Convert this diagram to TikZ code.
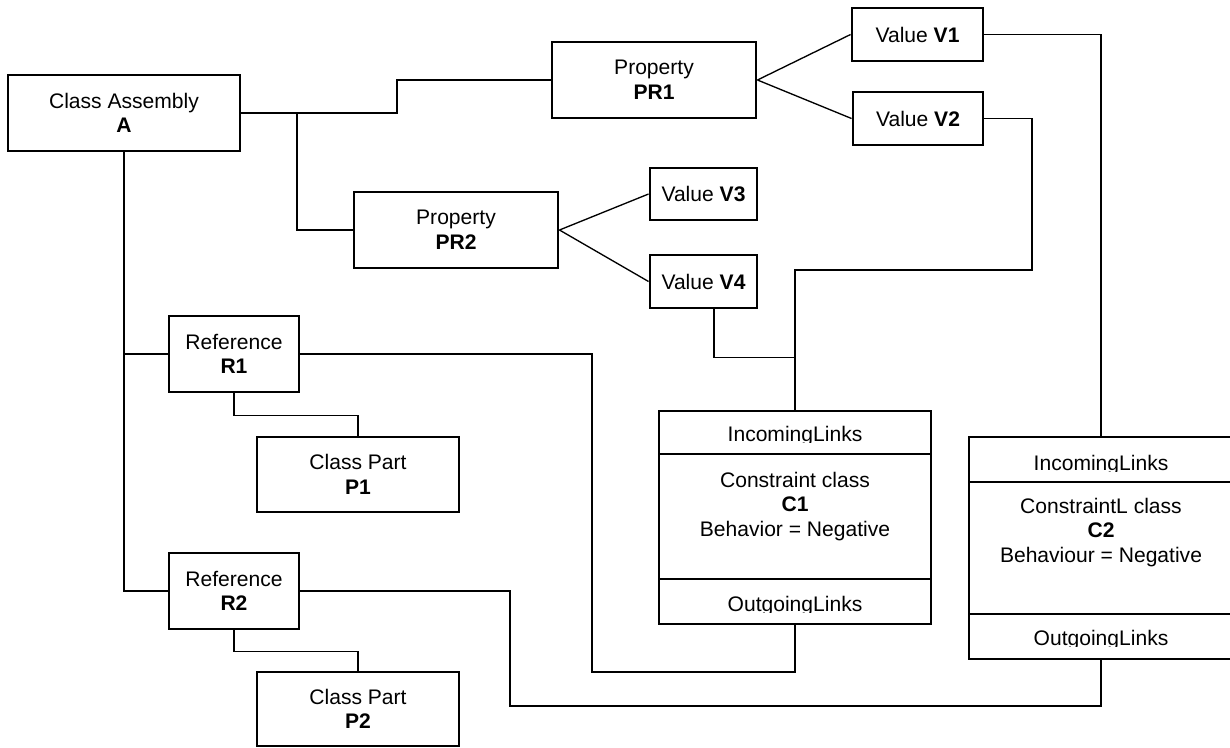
\documentclass[tikz,border=0pt]{standalone}
\usepackage{fontspec}
\setmainfont{Liberation Sans}
\begin{document}
\begin{tikzpicture}[x=0.75pt,y=-0.75pt,
  every node/.style={font=\fontsize{15.8}{18.4}\selectfont},
  bx/.style 2 args={draw, line width=2.2pt, minimum width=#1*0.75pt, minimum height=#2*0.75pt, inner sep=0pt, align=center},
  ln/.style={line width=1pt},
  txt/.style={inner sep=0pt, align=center}]
\useasboundingbox (0,0) rectangle (1230,747);
\clip (0,0) rectangle (1230,747);
% boxes
\node[bx={232}{76}] (A) at (124,113) {Class Assembly\\\textbf{A}};
\node[bx={204}{76}] (PR1) at (654,80) {Property\\\textbf{PR1}};
\node[bx={131}{53}] (V1) at (917.5,34.5) {Value \textbf{V1}};
\node[bx={130}{53}] (V2) at (918,118.5) {Value \textbf{V2}};
\node[bx={204}{76}] (PR2) at (456,230) {Property\\\textbf{PR2}};
\node[bx={107}{52}] (V3) at (703.5,194) {Value \textbf{V3}};
\node[bx={107}{53}] (V4) at (703.5,281.5) {Value \textbf{V4}};
\node[bx={130}{76}] (R1) at (234,354) {Reference\\\textbf{R1}};
\node[bx={202}{75}] (P1) at (358,474.5) {Class Part\\\textbf{P1}};
\node[bx={130}{76}] (R2) at (234,591) {Reference\\\textbf{R2}};
\node[bx={202}{74}] (P2) at (358,709) {Class Part\\\textbf{P2}};
% constraint C1
\node[bx={272}{43}] (C1in) at (795,432.5) {};
\node[bx={272}{125}] (C1body) at (795,516.5) {};
\node[bx={272}{45}] (C1out) at (795,601.5) {};
\begin{scope}
  \clip (659,411) rectangle (931,442);
  \node[anchor=base] (C1inT) at (795,441) {IncomingLinks};
\end{scope}
\begin{scope}
  \clip (659,580) rectangle (931,612);
  \node[anchor=base] (C1outT) at (795,611) {OutgoingLinks};
\end{scope}
\node[txt, anchor=north] (C1T) at (795,471.5) {Constraint class\\\textbf{C1}\\Behavior = Negative};
% constraint C2
\node[bx={264}{45}] (C2in) at (1101,459.5) {};
\node[bx={264}{132}] (C2body) at (1101,548) {};
\node[bx={264}{45}] (C2out) at (1101,636.5) {};
\begin{scope}
  \clip (969,437) rectangle (1233,471);
  \node[anchor=base] (C2inT) at (1101,470) {IncomingLinks};
\end{scope}
\begin{scope}
  \clip (969,615) rectangle (1233,646);
  \node[anchor=base] (C2outT) at (1101,645) {OutgoingLinks};
\end{scope}
\node[txt, anchor=north] (C2T) at (1101,497.5) {ConstraintL class\\\textbf{C2}\\Behaviour = Negative};
% connectors
\coordinate (jA) at (297,113);
\draw[ln] (A.east) -- (397,113) |- (PR1.west);
\draw[ln] (jA) |- (PR2.west);
\draw[ln] (A.south) -- (A.south |- R2.west) -- (R2.west);
\draw[ln] (A.south |- R1.west) -- (R1.west);
\draw[ln] (PR1.east) -- (V1.west);
\draw[ln] (PR1.east) -- (V2.west);
\draw[ln] (PR2.east) -- (V3.west);
\draw[ln] (PR2.east) -- (V4.west);
\draw[ln] (V1.east) -| (C2in.north);
\draw[ln] (V2.east) -- (1032,118.5) -- (1032,270) -| (C1in.north);
\path (V4.south) ++(10.5,0) coordinate (v4b);
\draw[ln] (v4b) -- ++(0,48) -| (C1in.north);
\draw[ln] (R1.east) -| (592,672) -| (C1out.south);
\draw[ln] (R1.south) -- ++(0,22) -| (P1.north);
\draw[ln] (R2.east) -| (510,706) -| (C2out.south);
\draw[ln] (R2.south) -- ++(0,21) -| (P2.north);
\end{tikzpicture}
\end{document}
